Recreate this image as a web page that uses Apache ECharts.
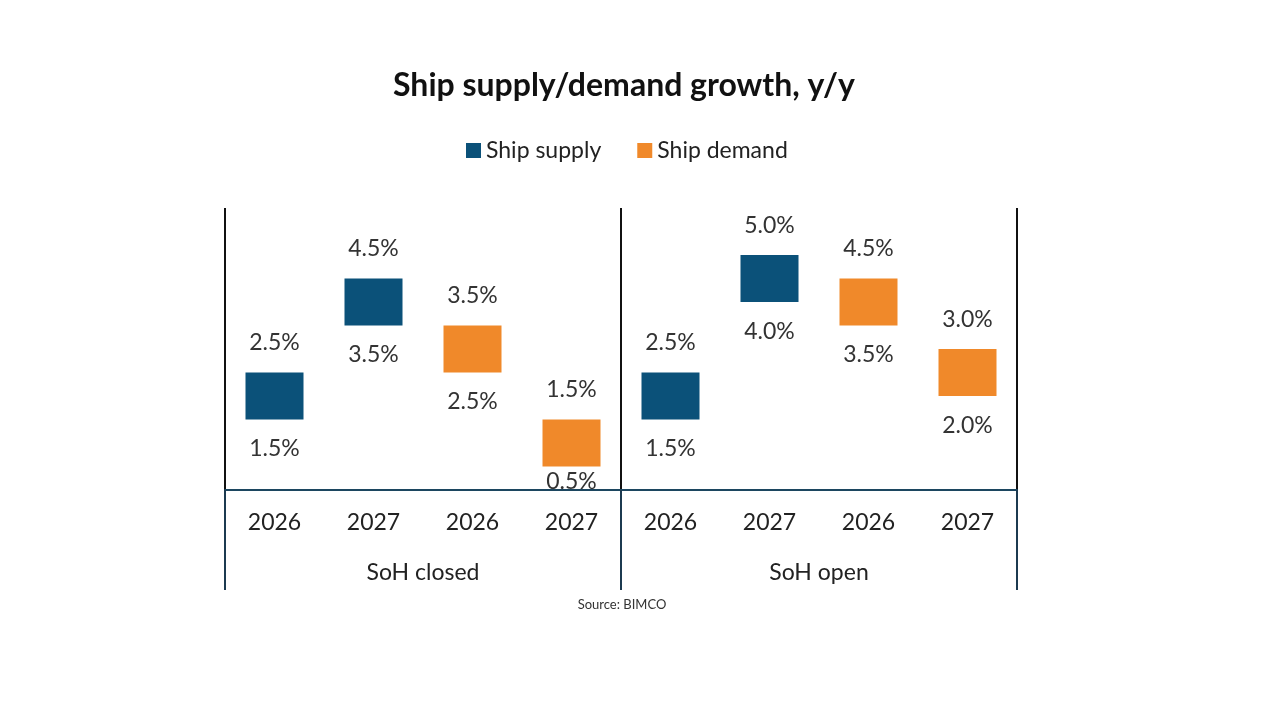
<!DOCTYPE html>
<html>
<head>
<meta charset="utf-8">
<script src="https://cdn.jsdelivr.net/npm/echarts@6/dist/echarts.min.js"></script>
<style>html,body{margin:0;padding:0;background:#fff}#c{width:1280px;height:720px}</style>
</head>
<body>
<div id="c"></div>
<script>
const categories = ['2026','2027','2026','2027','2026','2027','2026','2027'];
const groups = ['SoH closed','SoH open'];
const supplyLow  = [1.5, 3.5, null, null, 1.5, 4.0, null, null];
const supplyHigh = [2.5, 4.5, null, null, 2.5, 5.0, null, null];
const demandLow  = [null, null, 2.5, 0.5, null, null, 3.5, 2.0];
const demandHigh = [null, null, 3.5, 1.5, null, null, 4.5, 3.0];
const titleText = 'Ship supply/demand growth, y/y';
const sourceText = 'Source: BIMCO';

const FONT = 'Lato';
const navy = '#0B5179';
const orange = '#F0892A';
const fmt = v => v.toFixed(1) + '%';

function diff(lo, hi){ return lo.map((v,i)=> v==null ? null : +(hi[i]-v).toFixed(4)); }

const labelBase = {fontFamily: FONT, fontSize: 23, color: '#333'};

function lowItems(lo){
  // labels that would fall under the axis are pulled up to sit on it
  return lo.map(v => v==null ? null : (v < 1 ? {value: v, label: {distance: 4}} : v));
}

function pair(name, lo, hi, color, stack){
  return [
    {
      name: name + ' base', type: 'bar', stack: stack, barWidth: 58, barGap: '-100%',
      itemStyle: {color: 'transparent'}, silent: true,
      data: lowItems(lo),
      label: Object.assign({show: true, position: 'insideTop', distance: 18,
        formatter: p => p.value==null ? '' : fmt(p.value)}, labelBase)
    },
    {
      name: name, type: 'bar', stack: stack, barWidth: 58, barGap: '-100%',
      itemStyle: {color: color},
      data: diff(lo, hi),
      label: Object.assign({show: true, position: 'top', distance: 18,
        formatter: p => p.value==null ? '' : fmt(hi[p.dataIndex])}, labelBase)
    }
  ];
}

const chart = echarts.init(document.getElementById('c'), null, {renderer: 'canvas'});
chart.setOption({
  animation: false,
  textStyle: {fontFamily: FONT},
  title: {
    text: titleText, left: 388, top: 65, padding: 5,
    textStyle: {fontFamily: FONT, fontSize: 32, fontWeight: 'bold', color: '#111'}
  },
  legend: {
    data: ['Ship supply', 'Ship demand'], top: 134, left: 461, padding: 5,
    itemWidth: 15, itemHeight: 15, itemGap: 36, icon: 'rect',
    textStyle: {fontFamily: FONT, fontSize: 23, color: '#222'}
  },
  grid: {left: 225, right: 263, top: 208, bottom: 230},
  xAxis: [
    {
      type: 'category', data: categories, position: 'bottom',
      axisLine: {show: true, lineStyle: {color: '#1C4660', width: 2}},
      axisTick: {show: false},
      axisLabel: {margin: 21, fontFamily: FONT, fontSize: 23, color: '#222', interval: 0}
    },
    {
      type: 'category', data: groups, position: 'bottom',
      axisLine: {show: false},
      axisTick: {show: true, length: 100, lineStyle: {color: '#1C3A50', width: 2}},
      splitLine: {show: true, lineStyle: {color: '#111', width: 2}},
      axisLabel: {margin: 71, fontFamily: FONT, fontSize: 23, color: '#222'}
    }
  ],
  yAxis: {
    type: 'value', min: 0, max: 6, show: false
  },
  series: [
    ...pair('Ship supply', supplyLow, supplyHigh, navy, 's'),
    ...pair('Ship demand', demandLow, demandHigh, orange, 'd')
  ],
  graphic: [{
    type: 'text', x: 622, y: 598,
    style: {text: sourceText, fontFamily: FONT, fontSize: 13, fill: '#333', align: 'center'}
  }]
});
</script>
</body>
</html>
